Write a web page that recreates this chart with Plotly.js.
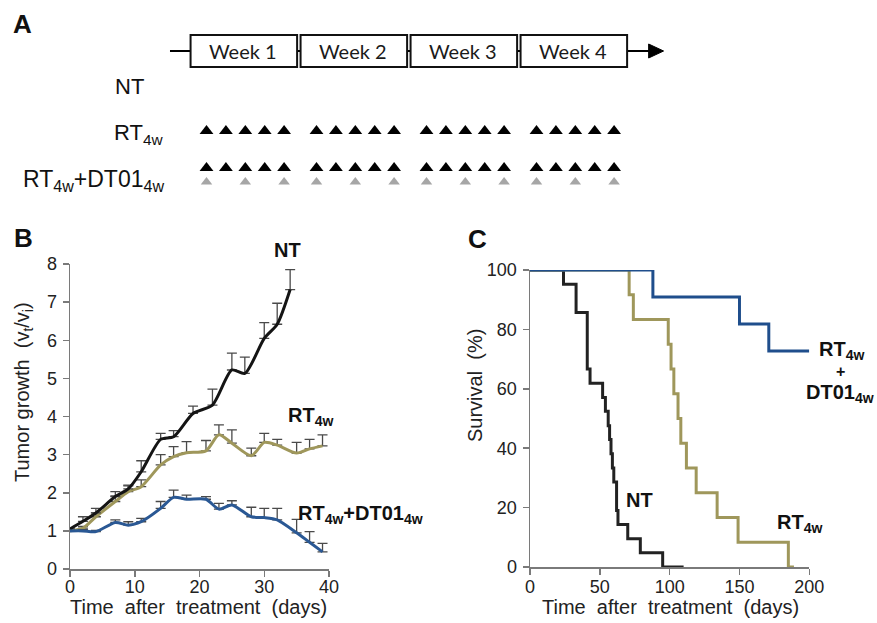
<!DOCTYPE html>
<html><head><meta charset="utf-8">
<script src="https://cdn.plot.ly/plotly-3.0.1.min.js"></script>
<style>html,body{margin:0;padding:0;background:#fff}#chart{width:877px;height:623px}</style>
</head><body><div id="chart"></div>
<script>
// ---------------- Panel A : treatment schedule ----------------
const weeks = ['Week 1', 'Week 2', 'Week 3', 'Week 4'];
const groupLabels = ['NT', 'RT<sub>4w</sub>', 'RT<sub>4w</sub>+DT01<sub>4w</sub>'];
const rtDoseWeekdays = [1, 2, 3, 4, 5];   // RT: Mon-Fri every week
const dt01DoseWeekdays = [1, 3, 5];       // DT01: Mon, Wed, Fri every week

// ---------------- Panel B : tumor growth (vt/vi) ----------------
const ntDays   = [0, 2, 4, 7, 9, 11, 14, 16, 19, 22, 25, 27, 30, 32, 34];
const ntGrowth = [1.05, 1.25, 1.47, 1.9, 2.1, 2.55, 3.4, 3.47, 4.08, 4.3, 5.22, 5.13, 6.05, 6.42, 7.33];
const ntErr    = [0, 0.12, 0.12, 0.13, 0.1, 0.29, 0.16, 0.16, 0.19, 0.42, 0.44, 0.43, 0.41, 0.55, 0.52];

const rtDays   = [0, 2, 4, 7, 9, 11, 14, 16, 18, 21, 23, 25, 28, 30, 32, 35, 37, 39];
const rtGrowth = [1.0, 1.07, 1.37, 1.77, 2.03, 2.16, 2.73, 2.95, 3.05, 3.1, 3.52, 3.3, 2.97, 3.32, 3.25, 3.04, 3.15, 3.23];
const rtErr    = [0, 0.05, 0.1, 0.15, 0.15, 0.18, 0.27, 0.26, 0.29, 0.27, 0.26, 0.35, 0.2, 0.24, 0.15, 0.28, 0.25, 0.29];

const comboDays   = [0, 2, 4, 7, 9, 11, 14, 16, 18, 21, 23, 25, 28, 30, 32, 35, 37, 39];
const comboGrowth = [1.0, 1.0, 0.98, 1.22, 1.15, 1.24, 1.59, 1.88, 1.83, 1.83, 1.57, 1.68, 1.37, 1.35, 1.29, 0.95, 0.70, 0.45];
const comboErr    = [0, 0.03, 0.03, 0.07, 0.09, 0.09, 0.18, 0.19, 0.11, 0.07, 0.15, 0.11, 0.25, 0.24, 0.3, 0.35, 0.28, 0.22];

// ---------------- Panel C : survival (%) ----------------
const ntSurvDays = [0, 24, 33, 41, 43, 52, 54, 56, 57, 58, 59, 60, 62, 63, 70, 79, 95, 110];
const ntSurv     = [100, 95.2, 85.7, 66.7, 61.9, 57.1, 52.4, 47.6, 42.9, 38.1, 33.3, 28.6, 19.0, 14.3, 9.5, 4.8, 0, 0];
const rtSurvDays = [0, 71, 74, 99, 101, 103, 106, 108, 112, 119, 134, 149, 185, 189];
const rtSurv     = [100, 91.7, 83.3, 75, 66.7, 58.3, 50, 41.7, 33.3, 25, 16.7, 8.3, 0, 0];
const comboSurvDays = [0, 88, 150, 171, 200];
const comboSurv     = [100, 90.9, 81.8, 72.7, 72.7];

// ---------------- styles / layout helpers ----------------
const W = 877, H = 623;
const FONT = 'Liberation Sans, Arial, sans-serif';
const C_BLACK = '#141414', C_OLIVE = '#9f975b', C_BLUE = '#2a5894';
const C_GRAY = '#a6a6a6';
const daysPerWeek = 7, firstDoseOffset = 1.114, doseSpacing = 1.2346;
const rowY = {rt: 131, comboBlack: 168, comboGray: 182};
function P(px, py) { return {x: px / W, y: 1 - py / H, xref: 'paper', yref: 'paper'}; }
function ann(px, py, text, size, opts) {
  return Object.assign(P(px, py), {text: text, showarrow: false, xanchor: 'center', yanchor: 'middle',
    font: {family: FONT, size: size, color: '#111'}}, opts || {});
}
function doseX(weekdays) {
  const xs = [];
  weeks.forEach((w, wi) => weekdays.forEach(d => xs.push(wi * daysPerWeek + firstDoseOffset + (d - 1) * doseSpacing)));
  return xs;
}

const traces = [];
// Panel A markers
const rtX = doseX(rtDoseWeekdays), dtX = doseX(dt01DoseWeekdays);
traces.push({x: rtX, y: rtX.map(() => rowY.rt), xaxis: 'x3', yaxis: 'y3', mode: 'markers', type: 'scatter',
  marker: {symbol: 'triangle-up', size: 12, color: '#000'}, hoverinfo: 'skip'});
traces.push({x: rtX, y: rtX.map(() => rowY.comboBlack), xaxis: 'x3', yaxis: 'y3', mode: 'markers', type: 'scatter',
  marker: {symbol: 'triangle-up', size: 12, color: '#000'}, hoverinfo: 'skip'});
traces.push({x: dtX, y: dtX.map(() => rowY.comboGray), xaxis: 'x3', yaxis: 'y3', mode: 'markers', type: 'scatter',
  marker: {symbol: 'triangle-up', size: 10, color: C_GRAY}, hoverinfo: 'skip'});

// Panel B lines
function growth(x, y, e, color) {
  return {x: x, y: y, xaxis: 'x', yaxis: 'y', type: 'scatter', mode: 'lines',
    line: {color: color, width: 3, shape: 'spline', smoothing: 0.7},
    error_y: {type: 'data', array: e, arrayminus: e.map(() => 0), symmetric: false,
      color: '#4a4a4a', thickness: 1.3, width: 5}, cliponaxis: false};
}
traces.push(growth(rtDays, rtGrowth, rtErr, C_OLIVE));
traces.push(growth(ntDays, ntGrowth, ntErr, C_BLACK));
traces.push(growth(comboDays, comboGrowth, comboErr, C_BLUE));

// Panel C survival steps
function surv(x, y, color) {
  return {x: x, y: y, xaxis: 'x2', yaxis: 'y2', type: 'scatter', mode: 'lines',
    line: {color: color, width: 3, shape: 'hv'}, cliponaxis: false};
}
traces.push(surv(ntSurvDays, ntSurv, '#222'));
traces.push(surv(rtSurvDays, rtSurv, C_OLIVE));
traces.push(surv(comboSurvDays, comboSurv, '#1f4e8c'));

// Panel A shapes (weeks on the x3 day axis)
const pxPerDay = 440 / 28, x3Start = -189 / pxPerDay;
const shapes = [];
shapes.push({type: 'line', xref: 'x3', yref: 'y3', x0: -1.21, x1: 29.4, y0: 51, y1: 51,
  line: {color: '#000', width: 2}});
shapes.push({type: 'path', xref: 'x3', yref: 'y3', path: 'M29.25,44 L30.2,51 L29.25,58 Z',
  fillcolor: '#000', line: {color: '#000', width: 1}});
weeks.forEach((w, i) => shapes.push({type: 'rect', xref: 'x3', yref: 'y3',
  x0: i * daysPerWeek + 0.1, x1: (i + 1) * daysPerWeek - 0.12, y0: 35, y1: 67,
  fillcolor: '#fff', line: {color: '#111', width: 2}}));

const annotations = [];
weeks.forEach((w, i) => annotations.push({x: i * daysPerWeek + 3.45, y: 51, xref: 'x3', yref: 'y3',
  xanchor: 'center', yanchor: 'middle',
  text: w, showarrow: false, font: {family: 'Lato, Open Sans, sans-serif', size: 20, color: '#1a1a1a'}}));
annotations.push(ann(22, 24, '<b>A</b>', 26));
annotations.push(ann(23, 238, '<b>B</b>', 26));
annotations.push(ann(477, 239, '<b>C</b>', 26));
annotations.push(ann(146, 87, groupLabels[0], 22, {xanchor: 'right'}));
annotations.push(ann(165, 134, groupLabels[1], 22, {xanchor: 'right'}));
annotations.push(ann(166, 180, groupLabels[2], 23, {xanchor: 'right'}));
// series labels B
annotations.push(ann(287, 250, '<b>NT</b>', 20));
annotations.push(ann(286, 416, '<b>RT<sub>4w</sub></b>', 20, {xanchor: 'left'}));
annotations.push(ann(296, 514, '<b>RT<sub>4w</sub>+DT01<sub>4w</sub></b>', 20, {xanchor: 'left'}));
// series labels C
annotations.push(ann(841, 350, '<b>RT<sub>4w</sub></b>', 20));
annotations.push(ann(840, 371, '<b>+</b>', 16));
annotations.push(ann(840, 393, '<b>DT01<sub>4w</sub></b>', 20));
annotations.push(ann(639, 500, '<b>NT</b>', 20));
annotations.push(ann(799, 523, '<b>RT<sub>4w</sub></b>', 20));
// axis titles
const sp = '\u00a0 ';
const titleFont = {family: FONT, size: 20, color: '#222'};
annotations.push(ann(198, 607, 'Time' + sp + 'after' + sp + 'treatment' + sp + '(days)', 20, {font: titleFont}));
annotations.push(ann(670, 607, 'Time' + sp + 'after' + sp + 'treatment' + sp + '(days)', 20, {font: titleFont}));
annotations.push(ann(23, 392, 'Tumor growth' + sp + '(v<sub>t</sub>/v<sub>i</sub>)', 20, {textangle: -90, font: titleFont}));
annotations.push(ann(475, 386, 'Survival' + sp + '(%)', 20, {textangle: -90, font: titleFont}));

const axBase = {showline: true, linecolor: '#7a7a7a', linewidth: 1.5, ticks: 'outside', ticklen: 6,
  tickcolor: '#7a7a7a', tickwidth: 1.5, showgrid: false, zeroline: false, fixedrange: true,
  tickfont: {family: FONT, size: 18, color: '#222'}, automargin: false};

const layout = {
  width: W, height: H, margin: {l: 0, r: 0, t: 0, b: 0}, paper_bgcolor: '#fff', plot_bgcolor: 'rgba(0,0,0,0)',
  showlegend: false, font: {family: FONT, color: '#222'},
  xaxis: Object.assign({}, axBase, {domain: [70 / W, 329 / W], range: [0, 40], dtick: 10, anchor: 'y', ticklabelstandoff: -5}),
  yaxis: Object.assign({}, axBase, {domain: [(H - 569) / H, (H - 264) / H], range: [0, 8], dtick: 1, anchor: 'x', ticklabelstandoff: 2}),
  xaxis2: Object.assign({}, axBase, {domain: [530 / W, 809.3 / W], range: [0, 200], dtick: 50, anchor: 'y2', ticklabelstandoff: -3}),
  yaxis2: Object.assign({}, axBase, {domain: [(H - 567) / H, (H - 270) / H], range: [0, 100], dtick: 20, anchor: 'x2', ticklabelstandoff: 2}),
  xaxis3: {domain: [0, 1], range: [x3Start, x3Start + W / pxPerDay], visible: false, anchor: 'y3', fixedrange: true},
  yaxis3: {domain: [0, 1], range: [H, 0], visible: false, anchor: 'x3', fixedrange: true},
  shapes: shapes, annotations: annotations
};
Plotly.newPlot('chart', traces, layout, {staticPlot: true, displayModeBar: false});
</script></body></html>
